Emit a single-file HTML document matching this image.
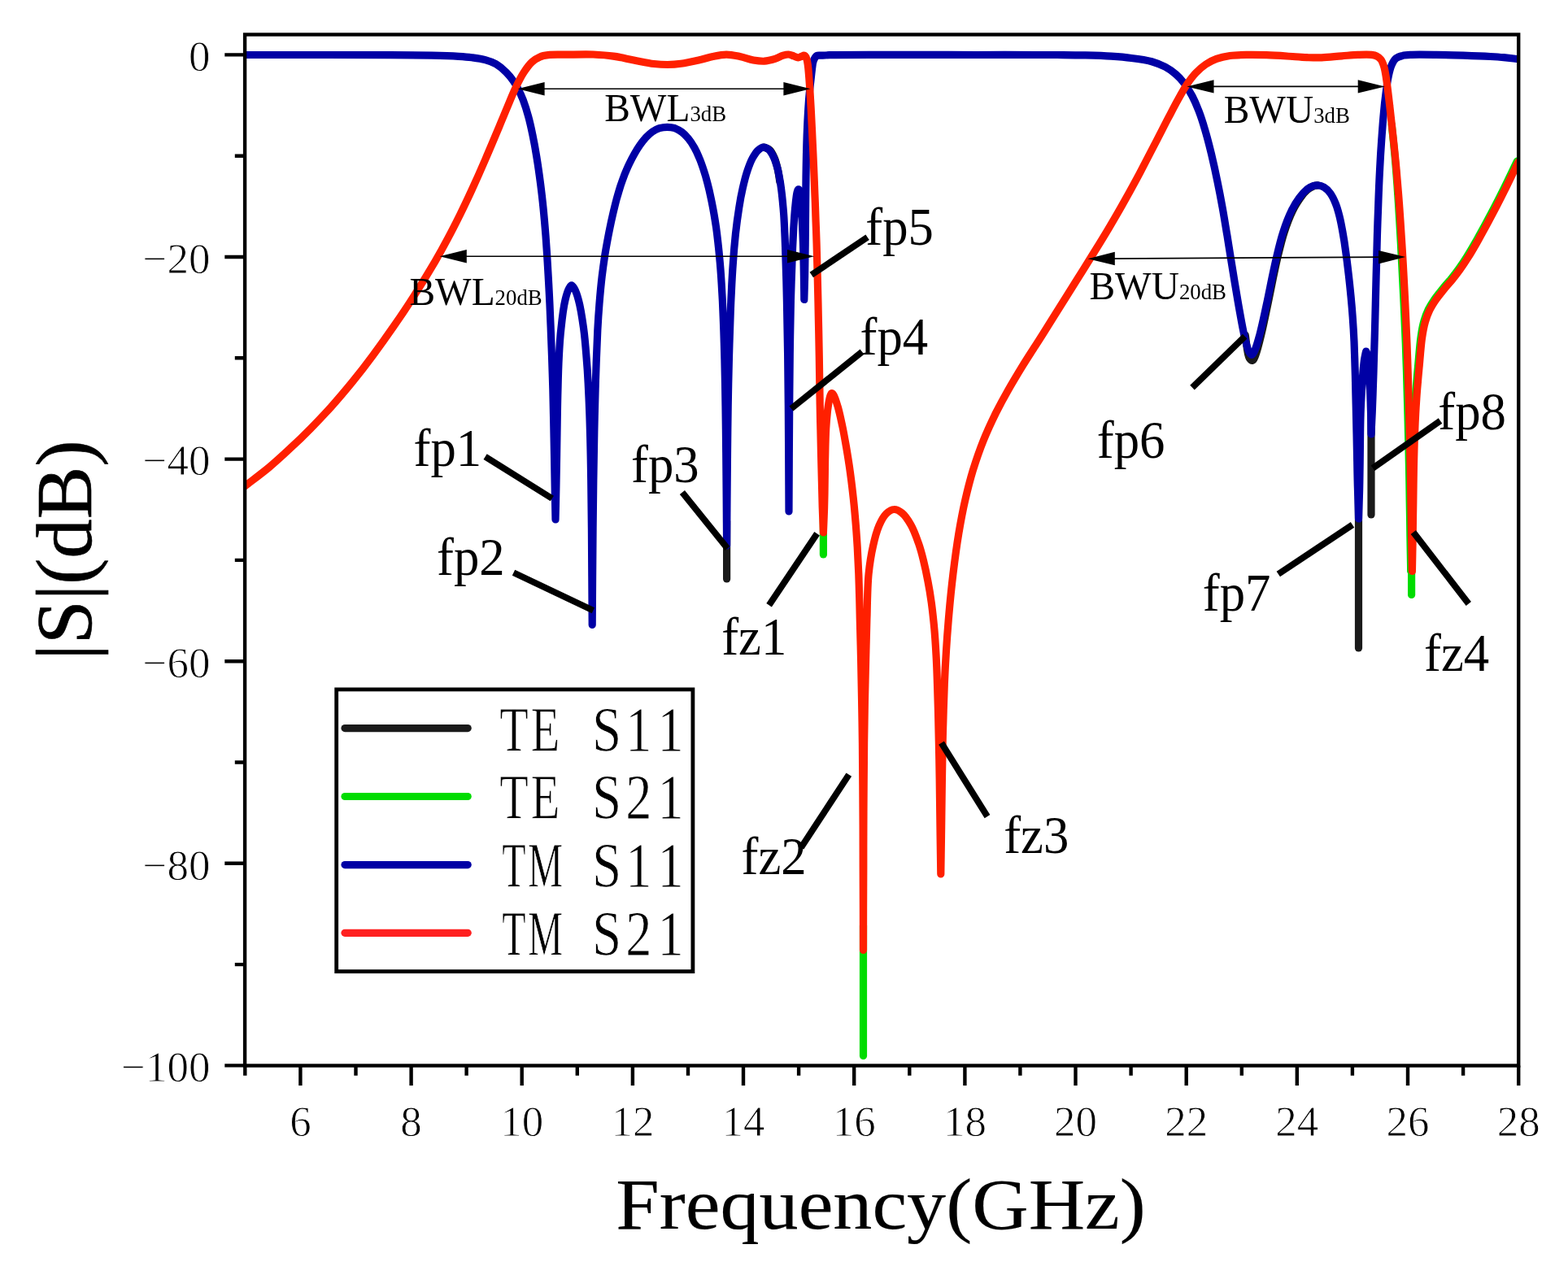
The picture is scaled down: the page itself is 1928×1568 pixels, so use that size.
<!DOCTYPE html>
<html lang="en"><head><meta charset="utf-8"><title>|S|(dB) vs Frequency(GHz)</title>
<style>
html,body{margin:0;padding:0;background:#ffffff;}
body{width:1928px;height:1568px;overflow:hidden;}
svg{display:block;}
text{white-space:pre;}
</style></head><body>
<svg width="1928" height="1568" viewBox="0 0 1928 1568" role="img" aria-label="S-parameter magnitude versus frequency">
<rect width="1928" height="1568" fill="#ffffff"/>
<clipPath id="plotclip"><rect x="301.1" y="42.5" width="1566.1" height="1268.0"/></clipPath>
<g fill="none" stroke-linecap="round" stroke-linejoin="round" stroke-width="9.2" clip-path="url(#plotclip)">
<path stroke="#1a1a1a" d="M893.6 641.0L893.6 712.0"/>
<path stroke="#1a1a1a" d="M1670.5 608.0L1670.5 797.0"/>
<path stroke="#1a1a1a" d="M1686.0 504.0L1686.0 633.0"/>
<path stroke="#1a1a1a" d="M1531.2 412.0C1532.8 421.4 1533.3 435.7 1536.1 440.2C1537.3 442.1 1539.1 443.5 1540.3 443.2C1541.7 442.9 1542.5 439.9 1543.7 437.1C1545.9 431.7 1548.5 421.1 1550.7 411.9C1553.4 401.0 1556.0 387.9 1558.5 376.1C1560.9 364.4 1563.4 351.7 1565.6 341.2C1567.4 332.6 1568.7 326.0 1570.7 317.6C1573.1 307.8 1575.8 296.0 1579.0 286.1C1582.0 276.8 1585.6 267.3 1589.2 259.8C1592.1 253.8 1595.0 248.8 1598.3 244.2C1601.1 240.2 1604.4 236.2 1607.5 233.6C1609.9 231.5 1612.5 230.0 1614.8 229.1C1616.7 228.3 1618.5 228.2 1620.3 227.8"/>
<path stroke="#1a1a1a" d="M939.0 181.0C941.5 182.1 944.4 182.5 946.5 184.4C948.9 186.6 950.6 190.4 952.2 194.0C954.0 198.0 955.1 202.8 956.2 207.6C957.4 212.7 958.0 218.3 958.9 223.7"/>
<path stroke="#00dc00" d="M1012.4 625.0L1012.4 682.0"/>
<path stroke="#00dc00" d="M1061.5 1138.5L1061.5 1298.5"/>
<path stroke="#00dc00" d="M1735.6 672.5L1735.6 731.5"/>
<path stroke="#00dc00" d="M1734.9 701.5C1735.2 687.3 1735.4 673.2 1735.7 659.0C1735.9 644.8 1736.0 630.7 1736.3 616.5C1736.5 602.3 1736.6 588.2 1736.9 574.0C1737.2 559.8 1737.5 545.7 1738.1 531.5C1738.6 517.4 1739.5 500.6 1740.3 489.1C1740.8 481.2 1741.3 475.7 1741.9 469.0C1742.4 462.3 1743.1 455.3 1743.7 449.0C1744.2 443.3 1744.6 438.4 1745.1 432.8C1745.7 426.7 1746.2 420.0 1747.2 413.6C1748.1 407.2 1749.3 400.4 1751.0 394.6C1752.5 389.5 1754.2 385.0 1756.3 380.6C1758.4 376.2 1761.0 372.2 1763.7 368.2C1766.5 364.1 1769.6 360.4 1772.9 356.3C1776.4 351.9 1780.7 347.2 1784.3 342.8C1787.7 338.6 1790.7 334.8 1793.8 330.4C1797.2 325.7 1800.6 320.5 1803.8 315.4C1807.2 310.1 1810.6 304.1 1813.5 299.1C1815.9 294.8 1817.7 291.6 1820.2 287.1C1823.3 281.5 1826.8 275.2 1830.6 267.9C1835.7 258.4 1842.0 246.3 1847.6 235.0C1853.6 223.0 1859.5 210.3 1865.5 198.0"/>
<path stroke="#00dc00" d="M1711.2 152.9C1712.2 162.8 1713.4 173.4 1714.2 182.7C1715.0 190.9 1715.6 197.6 1716.3 206.0C1717.1 216.1 1718.0 228.1 1718.7 239.2C1719.5 250.3 1720.2 261.8 1720.8 272.4C1721.4 282.0 1721.9 291.2 1722.4 300.0C1722.8 308.1 1723.1 314.0 1723.6 323.2C1724.3 336.7 1725.3 356.4 1726.1 373.0C1726.9 389.6 1727.7 408.0 1728.3 422.8C1728.7 434.7 1729.0 444.0 1729.4 455.0C1729.8 466.4 1730.1 477.8 1730.4 490.0C1730.8 503.5 1731.2 518.3 1731.5 532.5C1731.9 546.7 1732.2 560.8 1732.5 575.0C1732.8 589.2 1733.0 603.3 1733.2 617.5C1733.5 631.7 1733.7 645.8 1733.9 660.0C1734.2 674.2 1734.4 688.3 1734.7 702.5"/>
<path stroke="#0000a5" d="M301.1 67.5C334.1 67.5 368.8 67.5 400.0 67.5C428.1 67.5 456.3 67.5 480.0 67.6C498.9 67.7 515.8 67.8 531.0 68.1C543.2 68.4 555.0 68.8 564.0 69.3C570.3 69.7 574.6 70.0 580.0 70.7C585.5 71.4 591.5 72.1 596.6 73.6C601.4 74.9 605.7 76.4 609.9 78.8C614.3 81.4 618.9 85.4 622.5 89.0C625.8 92.3 628.6 95.8 631.1 99.4C633.5 102.8 635.4 106.1 637.3 109.8C639.5 113.9 641.4 118.2 643.3 123.2C645.5 129.1 647.7 136.1 649.6 143.0C651.6 150.3 653.3 158.0 654.9 165.9C656.7 174.5 658.3 183.2 659.8 192.7C661.5 203.1 663.2 215.2 664.6 226.0C665.9 236.2 667.0 245.5 668.0 255.8C669.1 266.8 670.1 278.7 671.0 290.0C671.8 301.2 672.5 311.0 673.2 323.2C674.1 338.1 675.1 355.3 675.9 373.0C676.8 393.1 677.8 418.7 678.5 437.7C679.0 452.7 679.4 464.5 679.8 478.0C680.1 491.4 680.4 504.8 680.7 518.2C681.0 531.6 681.2 545.1 681.5 558.5C681.7 571.9 681.9 585.3 682.2 598.7C682.4 612.2 682.7 625.6 683.0 639.0C683.3 625.6 683.7 612.1 683.9 598.7C684.2 585.3 684.4 571.9 684.6 558.6C684.8 545.2 685.0 531.9 685.2 518.6C685.4 505.2 685.6 491.9 686.0 478.4C686.3 464.8 686.7 450.2 687.4 437.3C688.0 425.6 688.6 415.2 689.9 404.0C691.1 392.4 692.8 378.0 695.0 368.9C696.4 362.9 698.1 357.4 699.9 354.3C700.8 352.6 701.8 350.9 702.8 350.9C703.9 350.9 705.0 352.8 706.1 354.6C708.0 357.7 709.8 363.2 711.4 369.2C713.9 378.2 716.0 392.3 717.6 403.9C719.2 415.5 720.1 427.4 721.0 438.9C722.0 450.1 722.6 459.4 723.2 472.0C724.1 489.0 725.0 511.7 725.5 531.5C726.1 551.2 726.4 570.9 726.7 590.6C727.0 610.3 727.2 630.0 727.4 649.7C727.5 669.5 727.6 689.3 727.8 709.0C727.9 728.9 728.1 748.7 728.2 768.5C728.3 748.7 728.5 728.9 728.6 709.1C728.8 689.4 728.9 669.6 729.1 649.8C729.3 630.0 729.5 610.2 729.8 590.4C730.1 570.6 730.4 550.8 730.8 531.1C731.2 511.3 731.7 491.9 732.3 471.7C733.0 450.4 733.9 424.4 734.8 406.2C735.5 393.3 736.1 384.1 737.0 373.0C737.9 361.9 739.0 350.1 740.2 339.8C741.3 330.9 742.4 323.0 743.6 314.9C744.8 307.1 746.4 298.4 747.6 292.0C748.5 287.3 749.1 284.2 750.0 279.9C751.0 274.9 752.2 269.4 753.5 263.8C754.9 257.7 756.6 250.8 758.2 244.7C759.8 239.1 761.4 233.6 763.0 228.5C764.6 223.8 766.1 219.6 767.8 215.1C769.6 210.7 771.5 206.1 773.6 201.8C775.6 197.5 777.8 193.2 780.1 189.2C782.2 185.5 784.3 182.0 786.7 178.6C789.1 175.3 791.7 171.8 794.4 168.9C796.9 166.3 799.4 163.9 802.2 162.0C804.9 160.2 807.8 158.7 810.8 157.7C813.8 156.8 817.2 156.3 820.4 156.3C823.6 156.3 826.9 156.7 829.9 157.7C832.9 158.8 835.8 160.5 838.5 162.5C841.3 164.6 843.8 167.2 846.2 170.1C849.0 173.4 851.6 177.6 853.8 181.5C856.1 185.5 857.9 189.6 859.7 194.0C861.8 198.8 863.6 204.2 865.3 209.4C867.1 214.7 868.6 220.1 870.0 225.6C871.5 231.3 872.8 236.9 874.0 242.8C875.4 249.0 876.6 255.6 877.7 261.9C878.8 268.0 879.7 274.0 880.6 279.9C881.4 285.7 882.0 290.7 882.7 297.0C883.6 304.8 884.5 313.7 885.3 323.2C886.3 334.4 887.2 348.9 887.8 360.0C888.4 369.1 888.6 375.0 889.0 385.0C889.7 400.2 890.4 423.1 890.9 442.2C891.4 461.3 891.7 480.3 892.0 499.4C892.3 518.5 892.5 537.5 892.7 556.6C892.9 575.7 893.0 594.7 893.2 613.8C893.3 632.9 893.5 651.9 893.6 671.0C893.7 651.9 893.9 632.9 894.0 613.8C894.2 594.7 894.3 575.7 894.5 556.6C894.7 537.5 894.9 518.5 895.2 499.4C895.5 480.3 895.9 461.3 896.4 442.2C896.9 423.1 897.6 400.2 898.2 385.0C898.6 374.9 898.8 369.1 899.3 360.0C899.8 348.9 900.5 335.3 901.4 323.2C902.2 311.4 903.2 299.6 904.4 288.1C905.6 277.1 907.1 265.7 908.7 255.8C910.0 247.1 911.4 239.3 913.2 231.6C914.9 224.2 916.7 216.7 918.9 210.3C920.8 204.6 922.8 199.2 925.2 194.7C927.3 190.9 929.6 187.0 932.2 184.7C934.3 182.9 936.8 181.3 939.0 181.2C941.0 181.1 943.1 182.3 944.9 183.8C947.2 185.7 949.3 189.3 951.1 192.8C953.1 196.9 954.6 202.0 956.0 206.9C957.4 212.2 958.4 218.0 959.3 223.6C960.2 229.0 960.8 233.9 961.5 239.9C962.3 247.1 963.1 256.0 963.7 263.8C964.2 271.1 964.5 278.1 964.8 285.1C965.1 291.8 965.3 296.5 965.6 305.0C966.1 320.4 967.0 348.2 967.4 369.8C967.9 391.4 968.3 413.0 968.6 434.6C968.9 456.2 969.1 477.8 969.3 499.4C969.5 521.0 969.6 542.6 969.7 564.2C969.8 585.8 969.9 607.4 970.0 629.0C970.1 607.3 970.2 585.6 970.3 564.0C970.5 542.4 970.6 520.9 970.7 499.4C970.9 478.0 971.0 456.6 971.3 435.2C971.6 413.7 971.9 392.3 972.4 370.7C973.0 348.8 973.9 321.7 974.6 304.5C975.1 293.5 975.5 285.8 976.0 277.5C976.5 270.2 976.8 263.9 977.5 257.0C978.2 249.7 979.1 238.3 980.5 234.9C980.9 233.8 981.6 232.8 982.0 232.9C982.6 233.0 982.9 235.7 983.3 238.0C984.1 242.4 984.8 250.0 985.4 257.7C986.3 268.7 986.9 284.3 987.4 297.8C987.9 311.6 988.2 327.1 988.4 339.7C988.6 350.2 988.7 358.9 988.8 368.5C989.1 359.0 989.3 350.3 989.6 340.0C989.8 327.8 990.0 313.7 990.2 300.0C990.4 285.4 990.5 270.3 990.6 255.0C990.8 239.0 990.9 222.4 991.2 206.0C991.5 189.5 991.9 171.1 992.6 156.2C993.1 144.1 993.9 131.8 994.5 123.3C994.9 117.8 995.3 114.3 995.7 109.8C996.2 105.3 996.7 100.8 997.2 96.5C997.7 92.5 998.0 88.6 998.5 84.8C999.0 81.3 999.2 77.6 1000.3 74.7C1001.2 72.3 1002.5 69.7 1004.2 68.6C1005.8 67.7 1007.9 68.3 1010.1 68.2C1013.0 68.0 1015.1 67.8 1020.0 67.7C1033.9 67.3 1071.8 67.5 1100.0 67.4C1131.5 67.4 1166.7 67.5 1200.0 67.5C1233.3 67.5 1275.7 67.3 1300.0 67.5C1314.0 67.6 1322.0 67.6 1333.0 67.9C1344.1 68.2 1356.1 68.5 1366.4 69.2C1375.3 69.8 1383.0 70.4 1391.3 71.5C1399.6 72.5 1408.8 73.7 1416.2 75.7C1422.4 77.5 1427.7 79.6 1432.8 82.3C1437.6 84.9 1442.0 88.0 1446.0 91.5C1449.9 94.9 1453.1 98.5 1456.3 102.7C1459.8 107.3 1463.0 112.5 1465.9 118.0C1468.9 123.7 1471.5 129.8 1474.0 136.4C1476.8 143.6 1479.2 151.2 1481.6 159.5C1484.4 168.8 1487.0 179.1 1489.5 189.3C1492.1 200.1 1494.6 211.6 1496.8 222.7C1499.1 233.7 1501.2 244.7 1503.2 255.8C1505.2 267.0 1507.1 279.0 1508.9 289.6C1510.4 298.9 1511.6 306.8 1513.1 316.0C1514.8 326.2 1516.5 337.1 1518.3 348.1C1520.3 359.7 1522.3 372.3 1524.4 383.7C1526.3 394.4 1528.3 405.8 1530.4 414.6C1532.0 421.3 1533.6 428.4 1535.5 432.2C1536.6 434.3 1537.9 436.5 1539.0 436.5C1540.0 436.6 1541.0 434.8 1542.0 432.9C1544.3 428.8 1546.7 419.6 1548.9 411.6C1551.7 401.2 1554.5 387.5 1557.1 375.6C1559.7 363.7 1562.2 350.6 1564.4 340.0C1566.3 331.3 1567.6 324.7 1569.6 316.3C1571.9 306.5 1574.6 294.8 1577.9 284.9C1580.9 275.7 1584.5 266.2 1588.2 258.8C1591.1 252.9 1594.0 247.9 1597.4 243.4C1600.3 239.5 1603.7 235.6 1606.9 233.0C1609.5 231.0 1612.2 229.5 1614.6 228.7C1616.6 228.0 1618.3 227.7 1620.3 227.8C1622.7 228.0 1625.6 228.8 1628.0 230.2C1630.7 231.8 1633.3 234.4 1635.5 237.4C1638.2 241.0 1640.5 246.0 1642.4 250.7C1644.4 255.6 1645.7 260.8 1647.1 266.3C1648.6 272.3 1649.8 278.8 1651.0 285.6C1652.4 293.1 1653.6 301.1 1654.7 309.6C1656.1 319.1 1657.4 330.4 1658.5 340.0C1659.5 348.8 1660.3 356.7 1661.1 365.0C1661.9 373.3 1662.6 381.3 1663.2 390.0C1663.9 399.6 1664.5 409.1 1665.0 420.0C1665.5 433.0 1666.0 449.1 1666.4 462.6C1666.7 474.8 1666.9 486.0 1667.2 497.7C1667.5 509.4 1667.7 521.1 1668.0 532.8C1668.2 544.5 1668.4 556.2 1668.7 567.8C1668.9 579.5 1669.1 591.2 1669.5 602.9C1669.8 614.6 1670.2 626.3 1670.5 638.0C1670.9 626.5 1671.3 615.0 1671.6 603.5C1671.9 591.7 1672.0 580.0 1672.2 568.1C1672.4 556.1 1672.4 544.0 1672.6 531.9C1672.8 519.8 1672.9 508.7 1673.6 495.5C1674.4 479.6 1676.1 453.3 1677.4 443.1C1678.0 438.9 1678.7 436.2 1679.1 434.2C1679.3 433.3 1679.4 432.1 1679.7 432.1C1679.9 432.1 1680.2 432.7 1680.4 433.3C1681.1 435.3 1681.6 441.1 1682.2 446.0C1682.9 452.8 1683.5 461.3 1684.0 470.1C1684.7 480.7 1685.2 494.3 1685.5 505.4C1685.8 515.5 1685.8 524.5 1686.0 534.0C1686.4 524.6 1686.9 515.6 1687.3 505.8C1687.7 495.0 1688.2 483.2 1688.5 472.0C1688.9 461.0 1689.2 451.4 1689.5 439.4C1690.0 424.6 1690.5 406.2 1690.9 389.6C1691.3 373.0 1691.7 356.4 1692.1 339.8C1692.6 323.2 1693.0 305.0 1693.4 290.0C1693.8 277.5 1694.1 268.3 1694.6 255.8C1695.1 240.8 1695.9 221.0 1696.7 206.1C1697.3 193.9 1697.9 184.0 1698.7 172.9C1699.5 161.9 1700.3 150.0 1701.3 139.7C1702.1 130.6 1703.0 122.3 1704.1 114.2C1705.0 107.0 1706.0 99.6 1707.3 93.5C1708.4 88.5 1709.4 83.8 1711.2 79.9C1712.6 76.7 1714.2 73.5 1716.6 71.6C1718.8 69.8 1721.6 69.1 1724.6 68.4C1728.0 67.5 1731.3 67.5 1736.0 67.3C1743.6 66.9 1755.8 67.2 1766.0 67.4C1776.8 67.5 1788.1 67.8 1799.2 68.1C1810.3 68.5 1823.2 69.0 1832.4 69.5C1838.9 69.9 1843.4 70.2 1849.0 70.7C1854.9 71.3 1861.0 72.0 1867.0 72.7"/>
<path stroke="#ff2000" d="M301.1 597.8C311.1 590.1 321.5 582.5 331.0 574.6C340.0 567.1 348.1 559.6 356.5 551.7C365.1 543.8 373.5 535.7 381.8 527.2C390.4 518.5 398.8 509.6 407.2 500.3C415.9 490.6 424.5 480.4 433.0 470.0C441.7 459.3 450.2 448.3 458.6 436.9C467.3 425.3 475.8 413.4 484.2 401.2C492.8 388.8 501.4 376.0 509.7 362.9C518.2 349.6 527.5 334.3 534.8 321.9C540.7 311.7 545.2 303.5 550.3 293.9C555.6 284.1 560.9 273.6 565.9 263.5C570.7 253.7 575.0 244.6 579.8 234.2C585.3 222.3 591.2 209.0 596.7 196.2C602.4 183.1 608.7 167.9 613.6 156.4C617.3 147.4 620.0 140.7 623.4 132.7C626.9 124.4 630.5 115.2 634.2 107.5C637.4 100.8 640.5 94.4 644.1 89.0C647.3 84.1 650.7 79.3 654.4 76.0C657.4 73.3 660.7 71.3 664.0 69.9C667.2 68.5 670.0 68.1 674.0 67.6C679.8 66.9 687.9 67.3 696.0 67.2C706.0 67.1 719.1 66.6 729.4 67.0C738.3 67.4 746.0 67.9 754.3 69.1C762.6 70.2 770.9 72.4 779.2 74.0C787.5 75.5 796.5 77.6 804.0 78.5C810.1 79.2 815.1 79.5 820.7 79.5C826.2 79.4 831.2 79.1 837.3 78.2C844.8 77.2 855.0 74.8 862.2 73.2C867.7 71.9 871.6 70.5 876.6 69.5C881.9 68.4 887.7 67.1 893.2 67.1C898.7 67.1 904.3 68.4 909.8 69.5C915.4 70.6 921.2 73.0 926.4 74.0C931.1 74.8 935.3 75.4 939.7 75.2C944.1 74.9 948.9 73.6 953.0 72.4C956.6 71.3 959.9 69.1 963.0 68.2C965.3 67.5 967.3 66.9 969.5 67.0C971.7 67.1 974.1 68.3 976.2 69.0C978.0 69.6 979.6 70.8 981.2 70.8C982.7 70.9 984.2 69.9 985.5 69.4C986.6 69.0 987.7 68.1 988.5 68.1C989.1 68.1 989.5 68.2 990.0 68.7C990.8 69.4 991.5 71.2 992.0 72.8C992.7 74.9 993.0 77.8 993.4 80.5C993.8 83.4 994.0 85.9 994.3 89.6C994.8 94.9 995.3 102.3 995.8 109.7C996.4 118.7 997.0 129.4 997.5 139.7C998.1 150.5 998.6 161.8 999.1 172.8C999.7 183.9 1000.1 194.9 1000.6 206.0C1001.1 217.1 1001.5 228.1 1001.9 239.2C1002.4 250.3 1002.8 261.8 1003.1 272.4C1003.5 282.0 1003.8 290.0 1004.1 300.0C1004.4 312.1 1004.8 325.8 1005.2 339.8C1005.6 355.5 1006.0 373.0 1006.3 389.6C1006.7 406.2 1007.0 422.2 1007.3 439.4C1007.6 458.0 1007.9 481.1 1008.2 497.5C1008.4 509.6 1008.6 518.5 1008.9 529.0C1009.1 539.5 1009.4 550.0 1009.6 560.5C1009.9 571.0 1010.1 581.5 1010.4 592.0C1010.7 602.5 1010.9 613.0 1011.2 623.5C1011.6 634.0 1012.0 644.5 1012.4 655.0C1012.8 644.6 1013.3 634.3 1013.6 623.9C1013.9 613.5 1014.1 603.0 1014.2 592.4C1014.4 581.7 1014.4 571.0 1014.7 560.2C1014.9 549.2 1015.1 537.4 1015.7 526.9C1016.3 517.4 1017.1 507.2 1018.3 499.6C1019.1 494.2 1020.2 488.2 1021.3 485.7C1021.8 484.7 1022.1 483.7 1022.7 483.7C1023.3 483.6 1024.2 484.5 1025.0 485.7C1026.8 488.4 1028.9 495.8 1030.6 501.6C1032.5 508.4 1034.2 516.7 1035.8 524.1C1037.3 531.1 1038.4 537.4 1039.7 544.9C1041.3 553.7 1042.9 563.8 1044.4 573.8C1045.9 584.4 1047.4 595.8 1048.6 606.8C1049.9 617.7 1050.9 628.7 1051.8 639.7C1052.8 650.7 1053.5 661.7 1054.2 672.7C1054.8 683.8 1055.3 694.9 1055.8 705.9C1056.2 717.0 1056.5 729.3 1056.8 739.2C1057.0 747.2 1057.1 752.2 1057.3 761.0C1057.7 774.4 1058.2 795.0 1058.6 812.0C1059.0 828.9 1059.3 845.9 1059.6 862.9C1059.9 879.9 1060.2 896.8 1060.4 913.8C1060.6 930.8 1060.7 947.8 1060.8 964.7C1060.9 981.7 1061.0 998.7 1061.1 1015.7C1061.1 1032.7 1061.2 1049.6 1061.2 1066.6C1061.3 1083.6 1061.3 1100.6 1061.4 1117.6C1061.4 1134.5 1061.5 1151.5 1061.5 1168.5C1061.5 1151.5 1061.6 1134.5 1061.6 1117.6C1061.7 1100.6 1061.7 1083.6 1061.8 1066.6C1061.8 1049.6 1061.8 1032.7 1061.9 1015.7C1062.0 998.7 1062.0 981.7 1062.2 964.7C1062.3 947.8 1062.4 930.8 1062.6 913.8C1062.9 896.8 1063.1 879.9 1063.4 862.9C1063.8 845.9 1064.2 829.0 1064.6 812.0C1065.0 795.1 1065.7 769.4 1065.9 761.2C1066.0 758.5 1066.0 758.6 1066.1 755.9C1066.3 747.8 1066.6 720.7 1068.1 705.6C1069.4 693.2 1071.1 682.1 1073.5 671.6C1075.5 662.4 1077.9 653.3 1081.0 646.1C1083.5 640.5 1086.2 635.2 1089.7 631.8C1092.5 629.1 1095.9 626.6 1099.2 626.5C1102.4 626.3 1106.0 628.4 1109.1 630.9C1113.1 634.1 1116.7 639.7 1119.9 645.3C1123.7 651.8 1126.8 660.7 1129.5 668.3C1132.0 675.4 1133.7 682.0 1135.5 689.4C1137.5 697.4 1139.3 706.1 1140.9 714.7C1142.6 723.4 1144.0 731.9 1145.3 741.3C1146.7 751.6 1147.9 763.3 1148.9 774.1C1149.8 784.5 1150.4 794.2 1151.0 805.0C1151.7 816.6 1152.1 828.5 1152.5 841.4C1153.0 856.1 1153.5 872.6 1153.8 888.2C1154.2 903.8 1154.5 919.3 1154.8 934.9C1155.1 950.5 1155.3 966.0 1155.5 981.6C1155.7 997.2 1155.9 1012.7 1156.1 1028.3C1156.3 1043.9 1156.6 1059.4 1156.8 1075.0C1157.0 1059.4 1157.3 1043.9 1157.5 1028.3C1157.7 1012.7 1157.9 997.2 1158.1 981.6C1158.3 966.0 1158.5 950.5 1158.8 934.9C1159.0 919.3 1159.3 903.8 1159.8 888.2C1160.2 872.6 1160.7 856.6 1161.3 841.5C1161.9 827.3 1162.6 814.1 1163.5 800.0C1164.4 785.5 1165.5 770.9 1166.8 755.8C1168.2 739.6 1169.9 722.5 1171.9 705.9C1173.9 689.3 1176.2 671.9 1178.8 656.2C1181.2 642.0 1183.6 628.9 1186.6 615.8C1189.5 603.2 1192.4 591.5 1196.1 579.2C1200.0 566.6 1204.5 553.5 1209.4 541.3C1214.0 529.7 1219.3 518.5 1224.5 507.9C1229.5 498.0 1234.4 489.0 1239.8 479.5C1245.4 469.7 1251.6 459.4 1257.4 449.9C1262.9 441.0 1269.2 431.4 1273.9 424.0C1277.4 418.5 1279.4 415.4 1283.0 409.7C1288.2 401.5 1295.6 389.6 1302.1 379.3C1308.9 368.5 1316.0 357.2 1322.8 346.3C1329.6 335.5 1336.1 325.2 1342.8 314.3C1349.8 303.0 1357.2 291.1 1364.0 279.6C1370.6 268.4 1377.0 257.4 1383.2 246.3C1389.3 235.3 1395.3 224.4 1401.2 213.3C1407.0 202.3 1412.7 191.2 1418.5 180.0C1424.4 168.8 1430.6 156.4 1436.0 146.0C1440.7 137.1 1444.9 128.8 1449.2 121.2C1452.8 114.7 1456.2 108.6 1459.9 103.1C1463.2 98.3 1466.4 93.9 1470.2 89.9C1474.0 85.8 1478.4 81.9 1482.8 79.0C1486.9 76.2 1491.1 74.1 1495.8 72.4C1500.9 70.6 1506.6 69.4 1512.4 68.5C1518.7 67.6 1525.4 67.5 1532.4 67.4C1540.2 67.2 1549.0 67.4 1557.3 67.7C1565.6 68.0 1573.9 68.5 1582.2 69.0C1590.5 69.5 1599.4 70.4 1607.0 70.7C1613.5 70.9 1618.5 71.1 1625.0 70.9C1632.6 70.6 1642.0 69.4 1649.8 68.8C1656.8 68.3 1663.4 67.6 1669.7 67.4C1675.5 67.2 1682.1 66.9 1686.4 67.4C1689.1 67.7 1691.0 68.1 1692.9 69.1C1694.8 70.0 1696.6 71.3 1698.0 73.2C1699.7 75.4 1700.8 78.9 1701.8 82.1C1702.9 85.8 1703.5 89.9 1704.2 94.2C1705.0 99.0 1705.6 104.1 1706.3 109.6C1707.1 115.9 1707.9 122.8 1708.7 129.7C1709.5 137.2 1710.4 144.8 1711.3 153.0C1712.3 162.3 1713.6 173.4 1714.5 182.7C1715.4 191.0 1716.0 197.6 1716.8 206.0C1717.7 216.1 1718.7 228.1 1719.6 239.2C1720.5 250.2 1721.3 261.8 1722.0 272.4C1722.7 282.0 1723.2 291.2 1723.8 300.0C1724.3 308.1 1724.7 314.0 1725.2 323.2C1726.0 336.7 1727.0 356.4 1727.8 373.0C1728.6 389.6 1729.4 408.0 1730.0 422.8C1730.4 434.7 1730.8 444.0 1731.1 455.0C1731.5 466.4 1731.8 477.8 1732.1 490.0C1732.5 503.5 1732.9 518.3 1733.2 532.5C1733.6 546.7 1733.9 560.8 1734.2 575.0C1734.5 589.2 1734.7 603.3 1734.9 617.5C1735.2 631.7 1735.4 645.8 1735.6 660.0C1735.9 674.2 1736.1 688.3 1736.4 702.5C1736.7 688.3 1736.9 674.2 1737.2 660.0C1737.4 645.8 1737.5 631.7 1737.8 617.5C1738.0 603.3 1738.1 589.2 1738.4 575.0C1738.7 560.8 1739.0 546.7 1739.6 532.5C1740.1 518.4 1741.0 501.6 1741.8 490.1C1742.3 482.2 1742.8 476.7 1743.4 470.0C1743.9 463.3 1744.6 456.3 1745.2 450.0C1745.7 444.3 1746.1 439.4 1746.6 433.8C1747.2 427.7 1747.7 421.0 1748.7 414.6C1749.6 408.2 1750.8 401.4 1752.5 395.6C1754.0 390.5 1755.7 386.0 1757.8 381.6C1759.9 377.2 1762.5 373.2 1765.2 369.2C1768.0 365.1 1771.1 361.4 1774.4 357.3C1777.9 352.9 1782.2 348.2 1785.8 343.8C1789.2 339.6 1792.2 335.8 1795.3 331.4C1798.7 326.7 1802.1 321.5 1805.3 316.4C1808.7 311.1 1812.1 305.1 1815.0 300.1C1817.4 295.8 1819.2 292.6 1821.7 288.1C1824.8 282.5 1828.3 276.2 1832.1 268.9C1837.2 259.4 1843.5 247.3 1849.1 236.0C1855.1 224.0 1861.0 211.3 1867.0 199.0"/>
</g>
<g stroke="#000" stroke-width="4.4" fill="none" stroke-linecap="butt">
<rect x="301.1" y="42.5" width="1566.1" height="1268.0"/>
<path d="M301.3 1310.5v12.3M369.4 1310.5v24.5M437.5 1310.5v12.3M505.6 1310.5v24.5M573.6 1310.5v12.3M641.7 1310.5v24.5M709.8 1310.5v12.3M777.9 1310.5v24.5M846.0 1310.5v12.3M914.0 1310.5v24.5M982.1 1310.5v12.3M1050.2 1310.5v24.5M1118.3 1310.5v12.3M1186.4 1310.5v24.5M1254.4 1310.5v12.3M1322.5 1310.5v24.5M1390.6 1310.5v12.3M1458.7 1310.5v24.5M1526.8 1310.5v12.3M1594.8 1310.5v24.5M1662.9 1310.5v12.3M1731.0 1310.5v24.5M1799.1 1310.5v12.3M1867.2 1310.5v24.5M301.1 67.4h-24.8M301.1 191.7h-12.3M301.1 316.0h-24.8M301.1 440.3h-12.3M301.1 564.6h-24.8M301.1 688.9h-12.3M301.1 813.2h-24.8M301.1 937.5h-12.3M301.1 1061.8h-24.8M301.1 1186.1h-12.3M301.1 1310.4h-24.8"/>
</g>
<g font-family="'Liberation Serif', serif" font-size="53.0" fill="#000" stroke="#ffffff" stroke-width="0.9">
<g text-anchor="end">
<text x="258.5" y="87.2">0</text>
<text x="258.5" y="335.8">−20</text>
<text x="258.5" y="584.4">−40</text>
<text x="258.5" y="833.0">−60</text>
<text x="258.5" y="1081.6">−80</text>
<text x="258.5" y="1330.2">−100</text>
</g><g text-anchor="middle">
<text x="369.4" y="1396.9">6</text>
<text x="505.6" y="1396.9">8</text>
<text x="641.7" y="1396.9">10</text>
<text x="777.9" y="1396.9">12</text>
<text x="914.0" y="1396.9">14</text>
<text x="1050.2" y="1396.9">16</text>
<text x="1186.4" y="1396.9">18</text>
<text x="1322.5" y="1396.9">20</text>
<text x="1458.7" y="1396.9">22</text>
<text x="1594.8" y="1396.9">24</text>
<text x="1731.0" y="1396.9">26</text>
<text x="1867.2" y="1396.9">28</text>
</g></g>
<text x="757.3" y="1511.4" font-family="'Liberation Serif', serif" font-size="88" textLength="651.5" lengthAdjust="spacingAndGlyphs" fill="#000" stroke="#000" stroke-width="0.15">Frequency(GHz)</text>
<text transform="translate(112.2,811.7) rotate(-90)" font-family="'Liberation Serif', serif" font-size="97" textLength="270.5" lengthAdjust="spacingAndGlyphs" fill="#000" stroke="#000" stroke-width="0.6">|S|(dB)</text>
<rect x="413.7" y="847.9" width="438.2" height="346.8" fill="#fff" stroke="#000" stroke-width="4.8"/>
<g stroke-width="9.2" stroke-linecap="round">
<line x1="424" y1="895.6" x2="575.2" y2="895.6" stroke="#1a1a1a"/>
<line x1="424" y1="979.5" x2="575.2" y2="979.5" stroke="#00dc00"/>
<line x1="424" y1="1063.6" x2="575.2" y2="1063.6" stroke="#0000a5"/>
<line x1="424" y1="1147.3" x2="575.2" y2="1147.3" stroke="#ff2020"/>
</g>
<g font-family="'Liberation Serif', serif" font-size="77.5" fill="#000" stroke="#fff" stroke-width="0.8" text-anchor="middle">
<text transform="translate(0,922.6) scale(0.75,1)" x="842.7 894.1">TE</text>
<text transform="translate(0,922.6) scale(0.83,1)" x="898.9 946.3 993.4">S11</text>
<text transform="translate(0,1006.3) scale(0.75,1)" x="842.7 894.1">TE</text>
<text transform="translate(0,1006.3) scale(0.83,1)" x="898.9 946.3 993.4">S21</text>
<text transform="translate(0,1090.3) scale(0.62,1)" x="1019.4 1081.6">TM</text>
<text transform="translate(0,1090.3) scale(0.83,1)" x="898.9 946.3 993.4">S11</text>
<text transform="translate(0,1174.2) scale(0.62,1)" x="1019.4 1081.6">TM</text>
<text transform="translate(0,1174.2) scale(0.83,1)" x="898.9 946.3 993.4">S21</text>
</g>
<g stroke="#000" stroke-width="7.9" stroke-linecap="butt">
<line x1="596.6" y1="561.6" x2="678.8" y2="613.0"/>
<line x1="631.5" y1="704.3" x2="729.4" y2="750.8"/>
<line x1="838.9" y1="605.6" x2="894.5" y2="674.4"/>
<line x1="972.9" y1="502.5" x2="1060.0" y2="432.7"/>
<line x1="997.8" y1="338.1" x2="1066.6" y2="291.7"/>
<line x1="1466.0" y1="476.7" x2="1530.7" y2="413.7"/>
<line x1="1571.8" y1="706.0" x2="1663.0" y2="645.4"/>
<line x1="1688.0" y1="575.7" x2="1771.0" y2="517.4"/>
<line x1="945.6" y1="744.2" x2="1004.6" y2="656.2"/>
<line x1="985.0" y1="1042.3" x2="1043.8" y2="952.7"/>
<line x1="1157.5" y1="913.7" x2="1214.0" y2="1004.1"/>
<line x1="1737.8" y1="654.5" x2="1805.8" y2="742.5"/>
</g>
<line x1="663.0" y1="109.2" x2="970.0" y2="109.2" stroke="#000" stroke-width="1.6"/><polygon fill="#000" points="636.4,109.2 669.6,117.4 669.6,101.0"/><polygon fill="#000" points="996.6,109.2 963.4,117.4 963.4,101.0"/>
<line x1="567.2" y1="315.2" x2="974.6" y2="315.2" stroke="#000" stroke-width="1.6"/><polygon fill="#000" points="540.6,315.2 573.8,323.4 573.8,307.0"/><polygon fill="#000" points="1001.2,315.2 968.0,323.4 968.0,307.0"/>
<line x1="1485.9" y1="106.4" x2="1676.3" y2="106.4" stroke="#000" stroke-width="1.6"/><polygon fill="#000" points="1459.3,106.4 1492.5,114.6 1492.5,98.2"/><polygon fill="#000" points="1702.9,106.4 1669.7,114.6 1669.7,98.2"/>
<line x1="1364.2" y1="318.1" x2="1701.6" y2="316.1" stroke="#000" stroke-width="1.6"/><polygon fill="#000" points="1337.6,318.2 1370.8,326.2 1370.8,309.8"/><polygon fill="#000" points="1728.2,316.0 1695.0,324.4 1695.0,308.0"/>
<g font-family="'Liberation Serif', serif" font-size="65" fill="#000">
<text transform="translate(508.5,573.0) scale(0.965,1)">fp1</text>
<text transform="translate(537.0,707.0) scale(0.965,1)">fp2</text>
<text transform="translate(776.0,593.3) scale(0.965,1)">fp3</text>
<text transform="translate(1057.5,436.3) scale(0.965,1)">fp4</text>
<text transform="translate(1064.3,300.8) scale(0.965,1)">fp5</text>
<text transform="translate(1348.8,563.2) scale(0.965,1)">fp6</text>
<text transform="translate(1478.8,750.7) scale(0.965,1)">fp7</text>
<text transform="translate(1768.3,528.0) scale(0.965,1)">fp8</text>
<text transform="translate(887.2,804.8) scale(0.965,1)">fz1</text>
<text transform="translate(911.6,1074.8) scale(0.965,1)">fz2</text>
<text transform="translate(1234.2,1049.0) scale(0.965,1)">fz3</text>
<text transform="translate(1751.0,825.4) scale(0.965,1)">fz4</text>
</g>
<g font-family="'Liberation Serif', serif" font-size="49.4" fill="#000">
<text transform="translate(743.3,148.7) scale(0.958,1)">BWL<tspan font-size="28">3dB</tspan></text>
<text transform="translate(503.5,375.3) scale(0.958,1)">BWL<tspan font-size="28">20dB</tspan></text>
<text transform="translate(1504.8,151.4) scale(0.958,1)">BWU<tspan font-size="28">3dB</tspan></text>
<text transform="translate(1339.5,367.5) scale(0.958,1)">BWU<tspan font-size="28">20dB</tspan></text>
</g>
</svg>
</body></html>
